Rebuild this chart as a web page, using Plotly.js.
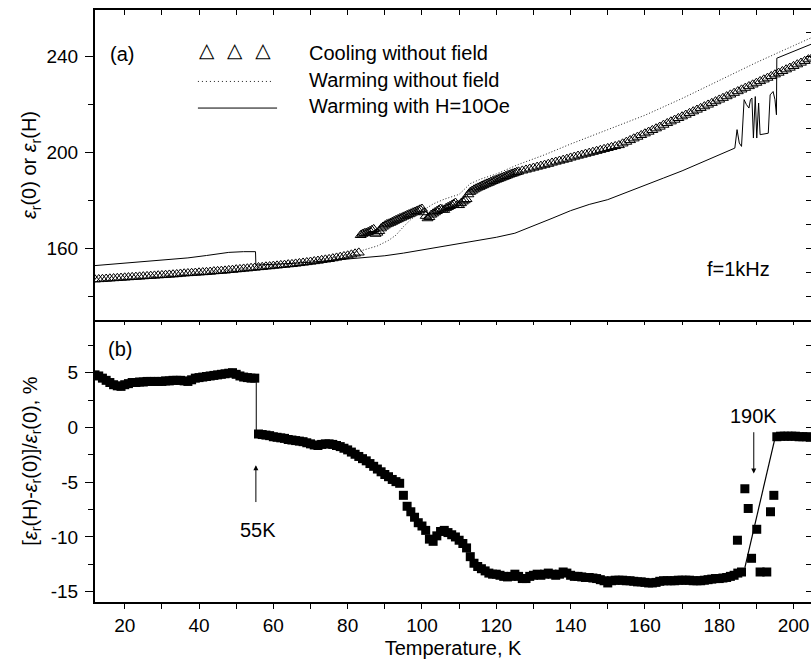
<!DOCTYPE html>
<html>
<head>
<meta charset="utf-8">
<script src="https://cdn.plot.ly/plotly-3.0.1.min.js"></script>
<style>html,body{margin:0;padding:0;background:#fff;}#chart{width:811px;height:664px;}</style>
</head>
<body>
<div id="chart"></div>
<script>
// ---------- Panel (a): cooling without field (open triangles) ----------
const coolT = [
12,13,14,15,16,17,18,19,20,21,
22,23,24,25,26,27,28,29,30,31,
32,33,34,35,36,37,38,39,40,41,
42,43,44,45,46,47,48,49,50,51,
52,53,54,55,56,57,58,59,60,61,
62,63,64,65,66,67,68,69,70,71,
72,73,74,75,76,77,78,79,80,81,
82,83,83.5,84,84.5,85,85.5,86,86.5,87,
87.5,88,88.5,89,89.5,90,90.5,91,91.5,92,
92.5,93,93.5,94,94.5,95,95.5,96,96.5,97,
97.5,98,98.5,99,99.5,100,100.5,101,101.5,102,
102.5,103,103.5,104,104.5,105,105.5,106,106.5,107,
107.5,108,108.5,109,109.5,110,110.5,111,111.5,112,
112.5,113,113.5,114,114.5,115,115.5,116,116.5,117,
117.5,118,118.5,119,119.5,120,120.5,121,121.5,122,
122.5,123,123.5,124,124.5,125,125.5,126,127,128,
129,130,131,132,133,134,135,136,137,138,
139,140,141,142,143,144,145,146,147,148,
149,150,151,152,153,154,155,156,157,158,
159,160,161,162,163,164,165,166,167,168,
169,170,171,172,173,174,175,176,177,178,
179,180,181,182,183,184,185,186,187,188,
189,190,191,192,193,194,195,196,197,198,
199,200,201,202,203,204,205
];
const coolV = [
147.0,147.1,147.2,147.3,147.4,147.5,147.6,147.7,147.8,147.9,
148.0,148.1,148.2,148.3,148.4,148.5,148.6,148.7,148.8,148.9,
149.0,149.1,149.2,149.4,149.5,149.6,149.7,149.8,149.9,150.0,
150.1,150.2,150.4,150.5,150.6,150.7,150.9,151.0,151.2,151.3,
151.5,151.6,151.8,151.9,152.1,152.2,152.4,152.5,152.7,152.8,
153.0,153.1,153.3,153.4,153.6,153.8,154.0,154.2,154.4,154.6,
154.8,155.1,155.3,155.5,155.8,156.1,156.4,156.7,157.0,157.4,
157.8,158.2,165.5,166.0,166.3,166.5,166.8,167.2,167.6,168.0,
166.0,166.5,167.2,168.3,169.0,169.5,170.0,170.3,170.6,171.0,
171.4,171.8,172.1,172.5,172.8,173.2,173.5,173.9,174.2,174.5,
174.9,175.2,175.5,175.8,176.2,176.5,175.0,173.5,172.5,173.0,
174.0,174.5,175.0,175.5,176.0,176.5,176.2,176.0,176.8,177.2,
177.6,178.0,178.5,179.0,178.0,178.0,178.8,179.5,180.0,180.5,
182.5,183.5,184.0,184.5,184.9,185.3,185.6,186.0,186.3,186.7,
187.0,187.3,187.7,188.0,188.3,188.6,188.9,189.2,189.5,189.8,
190.1,190.4,190.7,191.0,191.2,191.5,191.8,192.0,192.4,192.8,
193.2,193.6,194.0,194.4,194.8,195.2,195.7,196.1,196.5,196.9,
197.3,197.8,198.2,198.6,199.0,199.4,199.8,200.2,200.6,201.0,
201.4,201.8,202.2,202.6,203.0,203.7,204.4,205.1,205.8,206.5,
207.2,207.9,208.6,209.3,210.0,210.7,211.5,212.2,212.9,213.6,
214.3,215.0,215.7,216.4,217.1,217.8,218.5,219.2,219.9,220.6,
221.3,222.0,222.7,223.4,224.1,224.8,225.5,226.2,226.9,227.6,
228.3,229.0,229.7,230.4,231.1,231.8,232.5,233.2,233.9,234.6,
235.3,236.0,236.7,237.4,238.1,238.8,239.5
];

// ---------- Panel (a): warming without field (dotted line) ----------
const warmT = [12,20,30,40,50,55,60,65,70,75,80,83,85,88,91,93,95,97,100,103,106,110,113,116,120,126,133,140,150,160,170,180,190,200,205];
const warmV = [146.0,147.2,148.5,149.6,151.0,151.8,152.6,153.5,154.5,155.7,157.3,158.6,159.5,161.0,163.3,165.5,169.0,172.0,175.5,178.5,180.5,182.5,187.0,189.0,191.0,195.0,199.0,203.5,209.5,215.5,222.5,230.0,237.5,244.5,248.0];

// ---------- Panel (a): warming with H = 10 Oe (solid line) ----------
const hT = [12,20,30,37,42,45,48,52,55.2,55.3,60,65,70,75,80,85,90,95,100,105,110,115,120,125,130,135,140,145,150,155,160,165,170,175,180,184.2,184.8,185.4,186,186.7,187.3,188,188.4,188.8,189.2,189.7,190.1,190.6,191,193.2,193.7,194.5,195,195.4,195.5,200,205];
const hV = [152.8,153.8,155.0,156.0,157.0,157.6,158.3,158.6,158.6,153.0,153.2,153.7,154.2,154.8,155.4,156.1,156.9,158.0,159.3,160.6,162.0,163.3,164.6,166.3,169.3,172.5,175.7,178.3,180.3,183.2,186.1,189.3,192.3,195.6,198.8,201.8,209.5,203.9,202.5,222.0,220.0,218.5,222.0,222.7,206.0,223.3,206.0,220.6,207.4,208.0,224.0,225.4,222.0,215.7,239.3,242.0,245.3];

// ---------- Panel (b): relative change, % (filled squares) ----------
const relT = [
12,13,14,15,16,17,18,19,20,21,
22,23,24,25,26,27,28,29,30,31,
32,33,34,35,36,37,38,39,40,41,
42,43,44,45,46,47,48,49,50,51,
52,53,54,55,56,57,58,59,60,61,
62,63,64,65,66,67,68,69,70,71,
72,73,74,75,76,77,78,79,80,81,
82,83,84,85,86,87,88,89,90,91,
92,93,94,95,96,97,98,99,100,101,
102,103,104,105,106,107,108,109,110,111,
112,113,114,115,116,117,118,119,120,121,
122,123,124,125,126,127,128,129,130,131,
132,133,134,135,136,137,138,139,140,141,
142,143,144,145,146,147,148,149,150,151,
152,153,154,155,156,157,158,159,160,161,
162,163,164,165,166,167,168,169,170,171,
172,173,174,175,176,177,178,179,180,181,
182,183,184,185,186,184.9,186.9,187.8,188.7,190.1,
191,192.8,193.8,194.7,195.5,196.5,197.5,198.5,199.5,200.5,
201.5,202.5,203.5,204.5
];
const relV = [
4.8,4.7,4.5,4.3,4.1,3.9,3.8,3.75,3.9,4.0,
4.1,4.1,4.15,4.15,4.2,4.2,4.2,4.2,4.2,4.25,
4.25,4.3,4.3,4.3,4.25,4.2,4.35,4.5,4.55,4.6,
4.65,4.7,4.75,4.8,4.85,4.9,4.95,5.0,4.85,4.7,
4.6,4.55,4.5,4.5,-0.6,-0.65,-0.7,-0.75,-0.85,-0.9,
-0.95,-1.0,-1.1,-1.15,-1.2,-1.25,-1.3,-1.4,-1.5,-1.6,
-1.65,-1.55,-1.5,-1.5,-1.55,-1.65,-1.75,-1.9,-2.05,-2.25,
-2.45,-2.65,-2.85,-3.05,-3.3,-3.55,-3.8,-4.05,-4.3,-4.5,
-4.75,-4.95,-5.1,-6.2,-7.2,-7.7,-8.2,-8.7,-9.0,-9.4,
-10.2,-10.4,-9.9,-9.5,-9.4,-9.6,-9.8,-10.0,-10.3,-10.6,
-11.0,-11.8,-12.4,-12.7,-12.9,-13.1,-13.3,-13.4,-13.4,-13.5,
-13.6,-13.65,-13.6,-13.4,-13.6,-13.8,-13.8,-13.6,-13.5,-13.4,
-13.5,-13.4,-13.3,-13.4,-13.5,-13.4,-13.2,-13.3,-13.5,-13.6,
-13.6,-13.65,-13.7,-13.7,-13.75,-13.8,-13.9,-14.0,-14.2,-14.0,
-13.95,-13.95,-13.95,-14.0,-14.0,-14.05,-14.1,-14.1,-14.15,-14.2,
-14.2,-14.15,-14.05,-14.0,-14.0,-14.0,-14.0,-13.95,-13.95,-13.95,
-13.95,-14.0,-14.0,-14.0,-13.95,-13.9,-13.85,-13.8,-13.8,-13.75,
-13.7,-13.6,-13.5,-13.3,-13.2,-10.3,-5.6,-7.4,-11.95,-9.3,
-13.2,-13.2,-7.7,-6.2,-0.85,-0.8,-0.8,-0.8,-0.8,-0.8,
-0.85,-0.85,-0.85,-0.9
];

// guide lines in panel (b)
const jumpT = [55.4, 55.4];
const jumpV = [4.5, -0.6];
const rampT = [186.9, 195.2];
const rampV = [-12.8, -0.7];

// tick labels (hyphen minus as in the original)
const relTickVals = [-15, -10, -5, 0, 5];
const relTickText = ['-15', '-10', '-5', '0', '5'];

// labels
const legendLabels = ['Cooling without field', 'Warming without field', 'Warming with H=10Oe'];
const xTitle = 'Temperature, K';
const yTitleA = '<i>ε</i><sub>r</sub>(0) or <i>ε</i><sub>r</sub>(H)';
const yTitleB = '[<i>ε</i><sub>r</sub>(H)-<i>ε</i><sub>r</sub>(0)]/<i>ε</i><sub>r</sub>(0), %';

const FONT = 'Liberation Sans, Arial, Helvetica, sans-serif';
const XR = [12, 204.7];
const YRA = [130.1, 259.4];
const YRB = [-15.94, 9.81];
const SPLIT = 0.47635;

const traces = [
  {x: coolT, y: coolV, xaxis: 'x', yaxis: 'y', mode: 'markers', type: 'scatter', name: legendLabels[0],
   marker: {symbol: 'triangle-up-open', size: 9.5, color: '#000', line: {width: 1, color: '#000'}}, showlegend: false},
  {x: warmT, y: warmV, xaxis: 'x', yaxis: 'y', mode: 'lines', type: 'scatter', name: legendLabels[1],
   line: {color: '#222', width: 1, dash: '1px,2px'}, showlegend: false},
  {x: hT, y: hV, xaxis: 'x', yaxis: 'y', mode: 'lines', type: 'scatter', name: legendLabels[2],
   line: {color: '#000', width: 1}, showlegend: false},
  {x: relT, y: relV, xaxis: 'x2', yaxis: 'y2', mode: 'markers', type: 'scatter',
   marker: {symbol: 'square', size: 9, color: '#000'}, showlegend: false},
  {x: jumpT, y: jumpV, xaxis: 'x2', yaxis: 'y2', mode: 'lines', type: 'scatter',
   line: {color: '#000', width: 1}, showlegend: false},
  {x: rampT, y: rampV, xaxis: 'x2', yaxis: 'y2', mode: 'lines', type: 'scatter',
   line: {color: '#000', width: 1.2}, showlegend: false},
  // empty traces registering the mirror-tick axes
  {x: [], y: [], xaxis: 'x3', yaxis: 'y', type: 'scatter', showlegend: false, hoverinfo: 'skip'},
  {x: [], y: [], xaxis: 'x', yaxis: 'y3', type: 'scatter', showlegend: false, hoverinfo: 'skip'},
  {x: [], y: [], xaxis: 'x4', yaxis: 'y2', type: 'scatter', showlegend: false, hoverinfo: 'skip'},
  {x: [], y: [], xaxis: 'x2', yaxis: 'y4', type: 'scatter', showlegend: false, hoverinfo: 'skip'}
];

const tickFont = {family: FONT, size: 19, color: '#000'};
const titleFont = {family: FONT, size: 20, color: '#000'};

const layout = {
  width: 811, height: 664,
  margin: {l: 95, r: 0, t: 10, b: 62, pad: 0},
  paper_bgcolor: '#fff', plot_bgcolor: '#fff',
  font: {family: FONT, color: '#000'},
  showlegend: false,
  xaxis: {domain: [0, 1], anchor: 'y', range: XR, showticklabels: false, ticks: '',
          showline: true, linewidth: 2, linecolor: '#000', showgrid: false, zeroline: false},
  xaxis2: {domain: [0, 1], anchor: 'y2', range: XR, tick0: 0, dtick: 20, ticks: 'outside', ticklen: 5,
           tickwidth: 1, tickcolor: '#000', minor: {dtick: 10, ticks: 'outside', ticklen: 5, tickcolor: '#000', tickwidth: 1},
           showline: true, linewidth: 2, linecolor: '#000', showgrid: false, zeroline: false,
           tickfont: tickFont, ticklabelstandoff: 0,
           title: {text: xTitle, font: titleFont, standoff: 6}},
  xaxis3: {overlaying: 'x', anchor: 'y', side: 'top', range: XR, tick0: 0, dtick: 10, ticks: 'inside', ticklen: 5,
           tickcolor: '#000', showticklabels: false, showline: true, linewidth: 2, linecolor: '#000',
           showgrid: false, zeroline: false},
  xaxis4: {overlaying: 'x2', anchor: 'y2', side: 'top', range: XR, tick0: 0, dtick: 10, ticks: 'inside', ticklen: 5,
           tickcolor: '#000', showticklabels: false, showline: false, showgrid: false, zeroline: false},
  yaxis: {domain: [SPLIT, 1], anchor: 'x', range: YRA, tick0: 0, dtick: 40, ticks: 'outside', ticklen: 8,
          tickcolor: '#000', minor: {dtick: 20, ticks: 'outside', ticklen: 5, tickcolor: '#000'},
          showline: true, linewidth: 2, linecolor: '#000', showgrid: false, zeroline: false,
          tickfont: tickFont, ticklabelstandoff: 3,
          title: {text: yTitleA, font: titleFont, standoff: 4}},
  yaxis3: {overlaying: 'y', anchor: 'x', side: 'right', range: YRA, tick0: 0, dtick: 10, ticks: 'inside', ticklen: 5,
           tickcolor: '#000', showticklabels: false, showline: false, showgrid: false, zeroline: false},
  yaxis2: {domain: [0, SPLIT], anchor: 'x2', range: YRB, tickmode: 'array', tickvals: relTickVals, ticktext: relTickText,
           ticks: 'outside', ticklen: 8,
           tickcolor: '#000', minor: {dtick: 2.5, tick0: 0, ticks: 'outside', ticklen: 5, tickcolor: '#000'},
           showline: true, linewidth: 2, linecolor: '#000', showgrid: false, zeroline: false,
           tickfont: tickFont, ticklabelstandoff: 3,
           title: {text: yTitleB, font: titleFont, standoff: 8}},
  yaxis4: {overlaying: 'y2', anchor: 'x2', side: 'right', range: YRB, tick0: 0, dtick: 2.5, ticks: 'inside', ticklen: 5,
           tickcolor: '#000', showticklabels: false, showline: false, showgrid: false, zeroline: false},
  shapes: [
    {type: 'line', xref: 'x', yref: 'y', x0: 39.7, x1: 59.6, y0: 229.6, y1: 229.6,
     line: {color: '#222', width: 1, dash: '1px,3px'}},
    {type: 'line', xref: 'x', yref: 'y', x0: 39.7, x1: 61.0, y0: 218.5, y1: 218.5,
     line: {color: '#000', width: 1}}
  ],
  annotations: [
    {text: '(a)', xref: 'x', yref: 'y', x: 19.3, y: 241, showarrow: false, font: titleFont},
    {text: '(b)', xref: 'x2', yref: 'y2', x: 18.6, y: 7.2, showarrow: false, font: titleFont},
    {text: 'f=1kHz', xref: 'x', yref: 'y', x: 185.1, y: 151.5, showarrow: false, font: titleFont},
    {text: '\u25B3\u00A0\u00A0\u25B3\u00A0\u00A0\u25B3', xref: 'x', yref: 'y', x: 49.7, y: 242.6, showarrow: false,
     font: {family: 'DejaVu Sans', size: 20, color: '#000'}},
    {text: legendLabels[0], xref: 'x', yref: 'y', x: 69.05, y: 241.5, xanchor: 'left', showarrow: false, font: titleFont},
    {text: legendLabels[1], xref: 'x', yref: 'y', x: 69.05, y: 230.2, xanchor: 'left', showarrow: false, font: titleFont},
    {text: legendLabels[2], xref: 'x', yref: 'y', x: 69.05, y: 219.4, xanchor: 'left', showarrow: false, font: titleFont},
    {text: '55K', xref: 'x2', yref: 'y2', x: 55.9, y: -9.4, showarrow: false, font: titleFont},
    {text: '', xref: 'x2', yref: 'y2', x: 55.3, y: -3.45, ax: 55.3, ay: -6.95, axref: 'x2', ayref: 'y2',
     showarrow: true, arrowhead: 2, arrowsize: 1, arrowwidth: 1, arrowcolor: '#000'},
    {text: '190K', xref: 'x2', yref: 'y2', x: 189.3, y: 1.0, showarrow: false, font: titleFont},
    {text: '', xref: 'x2', yref: 'y2', x: 189.3, y: -4.2, ax: 189.3, ay: -0.3, axref: 'x2', ayref: 'y2',
     showarrow: true, arrowhead: 2, arrowsize: 1, arrowwidth: 1, arrowcolor: '#000'}
  ]
};

Plotly.newPlot('chart', traces, layout, {staticPlot: true, displayModeBar: false});
</script>
</body>
</html>
